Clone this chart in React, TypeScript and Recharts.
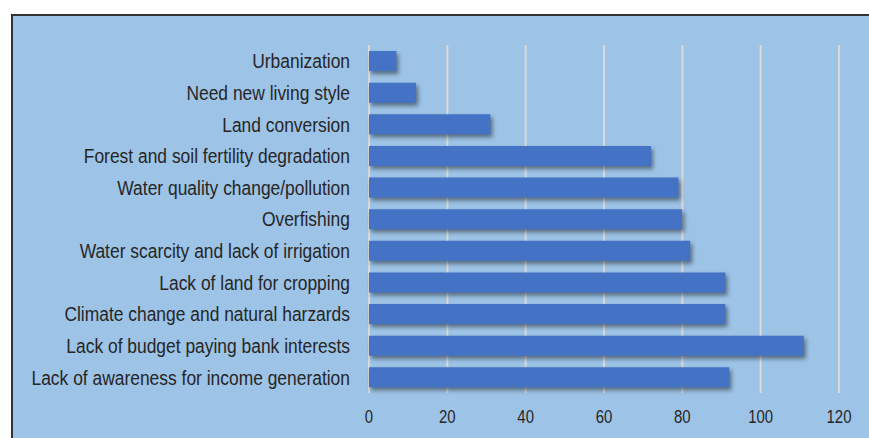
import { BarChart, Bar, XAxis, YAxis, CartesianGrid, Rectangle } from "recharts"

const categories = [
  "Urbanization",
  "Need new living style",
  "Land conversion",
  "Forest and soil fertility degradation",
  "Water quality change/pollution",
  "Overfishing",
  "Water scarcity and lack of irrigation",
  "Lack of land for cropping",
  "Climate change and natural harzards",
  "Lack of budget paying bank interests",
  "Lack of awareness for income generation",
]
const counts = [7, 12, 31, 72, 79, 80, 82, 91, 91, 111, 92]
const xTicks = [0, 20, 40, 60, 80, 100, 120]

const data = categories.map((name, i) => ({ name, value: counts[i] }))

const font = "'Liberation Sans', Arial, sans-serif"
// the source uses a narrow font, so squeeze regular Liberation Sans horizontally
const squeeze = 0.83

const ShadowBar = (props: any) => (
  <Rectangle
    {...props}
    style={{ filter: "drop-shadow(2px 3px 2px rgba(0,0,0,0.45))" }}
  />
)

const CategoryTick = ({ x, y, payload }: any) => (
  <g transform={`translate(${x},${y}) scale(${squeeze},1)`}>
    <text textAnchor="end" dy="0.355em" fill="#262626" fontSize={21} fontFamily={font}>
      {payload.value}
    </text>
  </g>
)

const ValueTick = ({ x, y, payload }: any) => (
  <g transform={`translate(${x},${y}) scale(${squeeze},1)`}>
    <text textAnchor="middle" dy="0.71em" fill="#262626" fontSize={18} fontFamily={font}>
      {payload.value}
    </text>
  </g>
)

export default function App() {
  return (
    <div style={{ position: "absolute", left: 0, top: 0, width: 869, height: 438, background: "#fff", overflow: "hidden", fontFamily: font }}>
      <div
        style={{
          position: "absolute",
          left: 11,
          top: 14,
          width: 880,
          height: 440,
          background: "#9DC3E6",
          borderLeft: "2px solid #333",
          borderTop: "2px solid #333",
        }}
      />
      <div style={{ position: "absolute", left: 0, top: 0 }}>
        <BarChart
          width={869}
          height={438}
          data={data}
          layout="vertical"
          margin={{ top: 45, right: 30, bottom: 15, left: 0 }}
        >
          <CartesianGrid horizontal={false} stroke="#D9D9D9" strokeWidth={2} />
          <XAxis
            type="number"
            domain={[0, 120]}
            ticks={xTicks}
            axisLine={false}
            tickLine={false}
            tickSize={0}
            tickMargin={17}
            height={30}
            tick={<ValueTick />}
          />
          <YAxis
            type="category"
            dataKey="name"
            width={369}
            axisLine={false}
            tickLine={false}
            tickSize={0}
            tickMargin={19}
            interval={0}
            tick={<CategoryTick />}
          />
          <Bar dataKey="value" fill="#4472C4" barSize={20} isAnimationActive={false} shape={ShadowBar} />
        </BarChart>
      </div>
    </div>
  )
}
